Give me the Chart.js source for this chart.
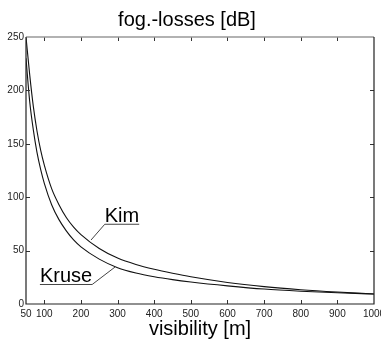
<!DOCTYPE html>
<html><head><meta charset="utf-8">
<script src="https://cdn.jsdelivr.net/npm/chart.js@4.4.0/dist/chart.umd.min.js"></script>
<style>html,body{margin:0;padding:0;background:#fff;overflow:hidden}</style>
</head><body>
<canvas id="c" width="381" height="345" style="display:block;width:381px;height:345px"></canvas>
<script>
const visibility = [50,60,70,80,90,100,120,140,160,180,200,250,300,350,400,450,500,600,700,800,900,1000];
const kimLoss   = [250,215,185,162,144,130,108,93,81,72,65,52,43,37,32.5,28.8,25.5,20.2,16.3,13.4,11.2,9.4];
const kruseLoss = [230,190,163,142,126,113,93,79,68.5,60,53.5,42,34,29,25.5,22.8,20.6,17,14,12,10.5,9.3];
const xTickValues = [50,100,200,300,400,500,600,700,800,900,1000];
const yTickValues = [0,50,100,150,200,250];
const titleText = 'fog.-losses [dB]';
const xTitleText = 'visibility [m]';
const seriesNames = ['Kim','Kruse'];
// callout anchors in data units: text position, leader target
const calloutText = [[265,77],[88,20.6]];
const calloutTarget = [[227.5,59.9],[293,34.6]];
const calloutSide = ['left','right'];

const FONT = "'Liberation Sans', Arial, sans-serif";

const frame = {
  id:'frame',
  afterDraw(chart){
    const {ctx, chartArea:a, scales:{x,y}} = chart;
    ctx.save();
    ctx.strokeStyle='#333'; ctx.lineWidth=1;
    ctx.beginPath();
    xTickValues.forEach(v=>{ if(v===x.min||v===x.max) return;
      const px=Math.round(x.getPixelForValue(v))+0.5;
      ctx.moveTo(px,a.bottom); ctx.lineTo(px,a.bottom-4);
      ctx.moveTo(px,a.top); ctx.lineTo(px,a.top+4);
    });
    yTickValues.forEach(v=>{ if(v===y.min||v===y.max) return;
      const py=Math.round(y.getPixelForValue(v))+0.5;
      ctx.moveTo(a.left,py); ctx.lineTo(a.left+4,py);
      ctx.moveTo(a.right,py); ctx.lineTo(a.right-4,py);
    });
    ctx.stroke();
    ctx.lineWidth=1.5; ctx.strokeStyle='#999';
    ctx.beginPath(); ctx.moveTo(a.left,a.top); ctx.lineTo(a.right,a.top); ctx.stroke();
    ctx.strokeStyle='#222'; ctx.lineWidth=1.2;
    ctx.beginPath(); ctx.moveTo(a.left,a.top); ctx.lineTo(a.left,a.bottom); ctx.lineTo(a.right,a.bottom); ctx.lineTo(a.right,a.top); ctx.stroke();
    ctx.font = '20px '+FONT; ctx.fillStyle='#000'; ctx.textBaseline='alphabetic';
    seriesNames.forEach((name,i)=>{
      const tx=x.getPixelForValue(calloutText[i][0]), ty=y.getPixelForValue(calloutText[i][1]);
      const w=ctx.measureText(name).width;
      ctx.fillText(name,tx,ty);
      ctx.strokeStyle='#444'; ctx.lineWidth=1;
      ctx.beginPath(); ctx.moveTo(tx,ty+2.5); ctx.lineTo(tx+w,ty+2.5);
      const sx = calloutSide[i]==='left'? tx : tx+w;
      ctx.moveTo(sx,ty+2.5);
      ctx.lineTo(x.getPixelForValue(calloutTarget[i][0]), y.getPixelForValue(calloutTarget[i][1]));
      ctx.stroke();
    });
    ctx.restore();
  }
};

new Chart(document.getElementById('c'),{
  type:'line',
  data:{
    datasets:[
      {label:seriesNames[0], data:visibility.map((v,i)=>({x:v,y:kimLoss[i]})), borderColor:'#111', borderWidth:1.1, pointRadius:0, cubicInterpolationMode:'monotone', fill:false},
      {label:seriesNames[1], data:visibility.map((v,i)=>({x:v,y:kruseLoss[i]})), borderColor:'#111', borderWidth:1.1, pointRadius:0, cubicInterpolationMode:'monotone', fill:false}
    ]
  },
  options:{
    responsive:false, animation:false, devicePixelRatio:1,
    layout:{padding:{left:0,right:7,top:0,bottom:0}},
    plugins:{
      legend:{display:false}, tooltip:{enabled:false},
      title:{display:true,text:titleText,color:'#000',font:{family:FONT,size:20,weight:'normal'},padding:{top:8,bottom:5}}
    },
    scales:{
      x:{type:'linear',min:50,max:1000,
        afterBuildTicks:s=>{s.ticks=xTickValues.map(v=>({value:v}));},
        afterFit:s=>{s.paddingLeft=0;s.paddingRight=0;s.height=41;},
        grid:{display:false,drawTicks:false}, border:{display:false},
        ticks:{color:'#222',font:{family:FONT,size:10},padding:4,maxRotation:0,autoSkip:false,callback:v=>String(v)},
        title:{display:true,text:xTitleText,color:'#000',font:{family:FONT,size:20},padding:{top:0,bottom:4}}
      },
      y:{type:'linear',min:0,max:250,
        afterBuildTicks:s=>{s.ticks=yTickValues.map(v=>({value:v}));},
        afterFit:s=>{s.width=26;s.paddingTop=0;s.paddingBottom=0;},
        grid:{display:false,drawTicks:false}, border:{display:false},
        ticks:{color:'#222',font:{family:FONT,size:10},padding:2,callback:v=>String(v)}
      }
    }
  },
  plugins:[frame]
});
</script>
</body></html>
